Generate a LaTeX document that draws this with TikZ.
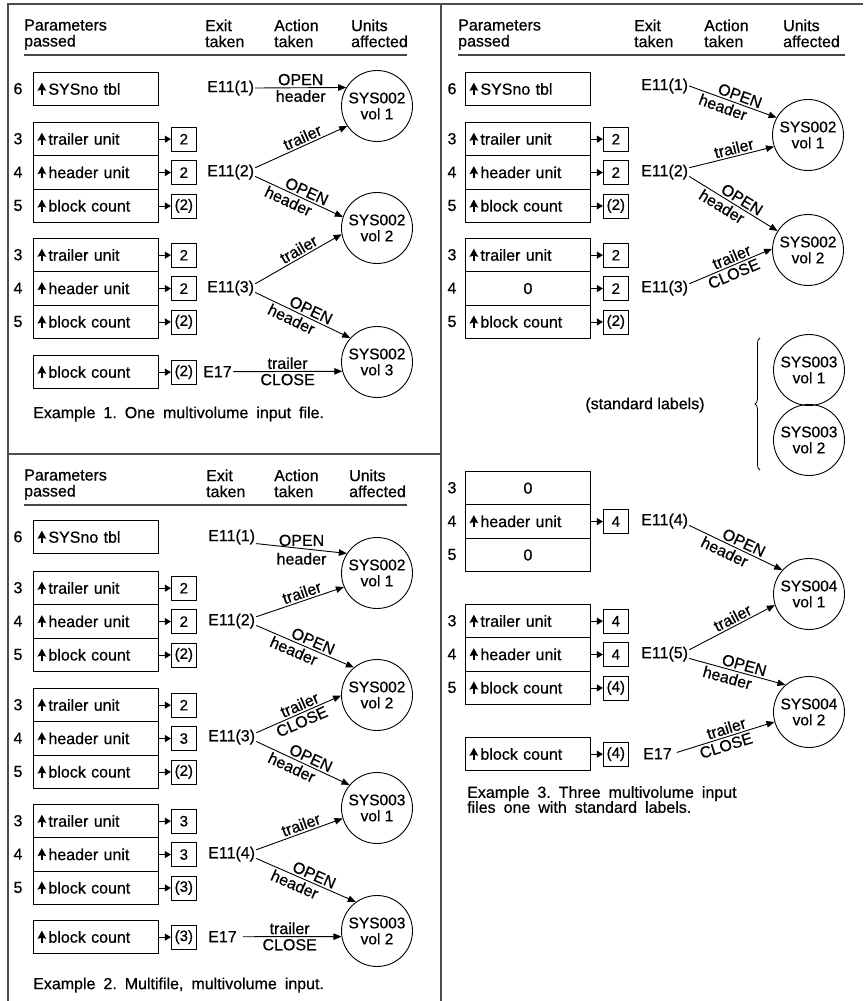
\documentclass[tikz,border=0pt]{standalone}
\usepackage{fontspec}
\setmainfont{Liberation Sans}[FakeBold=0.6]
\usetikzlibrary{arrows.meta,decorations.pathreplacing}
\newcommand{\ptr}{\tikz[baseline=0pt,x=1pt,y=1pt]{\fill (-4.4,3.8) -- (0,12) -- (4.4,3.8) -- (0,5.2) -- cycle; \draw[line width=1.8pt] (0,0) -- (0,5.6);}\hspace{2.2pt}}
\newcommand{\prow}[7][rowbox]{\node[#1] (#2) at (#3,#4) {#6}; \node[numlab] (#2n) at (#7,#4+16.7) {#5};}
\newcommand{\sbx}[3]{\node[sbox] (#1) at ([xshift=12pt]#2.east) {#3}; \draw[ptrarr] (#2.east) -- (#1.west);}
\newcommand{\widesp}{\spaceskip=8pt plus 1pt\relax}
\tikzset{
  frame/.style={line width=2.3pt, draw=black!70},
  uline/.style={line width=1.6pt, draw=black!72},
  hdr/.style={anchor=north west, inner sep=0pt, align=left},
  rowbox/.style={draw, line width=0.9pt, anchor=north west, minimum height=33.4pt, text width=117pt, inner xsep=4pt, inner ysep=0pt, align=left},
  zerobox/.style={rowbox, align=center},
  numlab/.style={inner sep=0pt},
  sbox/.style={draw, line width=0.9pt, anchor=west, minimum width=25pt, minimum height=24pt, inner sep=0pt, font=\fontsize{15}{15}\selectfont},
  exitlab/.style={anchor=west, inner sep=1pt},
  unit/.style={draw, circle, line width=0.9pt, minimum size=71pt, inner sep=0pt, align=center, font=\fontsize{15.5}{16}\selectfont},
  flow/.style={-{Triangle[length=8pt,width=6.5pt]}, line width=0.9pt},
  ptrarr/.style={-{Triangle[length=6pt,width=7pt]}, line width=0.9pt},
  lab/.style={inner sep=2pt},
  captext/.style={inner sep=0pt, align=left, font=\fontsize{16}{15}\selectfont},
}
\begin{document}
\begin{tikzpicture}[x=1pt,y=-1pt,font=\fontsize{16}{16}\selectfont]
\fill[white] (0,0) rectangle (863,1001);
\useasboundingbox (0,0) rectangle (863,1001);
% frame
\draw[frame] (7,4) -- (863,4);
\draw[frame] (8,4) -- (8,1001);
\draw[frame] (441,4) -- (441,1001);
\draw[frame] (8,454) -- (441,454);

% ================= Example 1 =================
\node[hdr] (h1p) at (24,19.3) {Parameters\\passed};
\node[hdr] (h1e) at (205,19.3) {Exit\\taken};
\node[hdr] (h1a) at (274,19.3) {Action\\taken};
\node[hdr] (h1u) at (351,19.3) {Units\\affected};
\draw[uline] (24,55) -- (407,55);

\prow{a6}{33}{72}{6}{\ptr SYSno tbl}{18}
\prow{a11}{33}{122}{3}{\ptr trailer unit}{18}
\prow{a12}{33}{155.4}{4}{\ptr header unit}{18}
\prow{a13}{33}{188.8}{5}{\ptr block count}{18}
\prow{a21}{33}{238}{3}{\ptr trailer unit}{18}
\prow{a22}{33}{271.4}{4}{\ptr header unit}{18}
\prow{a23}{33}{304.8}{5}{\ptr block count}{18}
\node[rowbox] (a3) at (33,355) {\ptr block count};
\sbx{s11}{a11}{2}
\sbx{s12}{a12}{2}
\sbx{s13}{a13}{(2)}
\sbx{s21}{a21}{2}
\sbx{s22}{a22}{2}
\sbx{s23}{a23}{(2)}
\sbx{s3}{a3}{(2)}

\node[exitlab] (e11) at (206,88) {E11(1)};
\node[exitlab] (e12) at (206,172.1) {E11(2)};
\node[exitlab] (e13) at (206,288.1) {E11(3)};
\node[exitlab] (e17) at (202,371.7) {E17};

\node[unit] (c1) at (377,106) {SYS002\\vol 1};
\node[unit] (c2) at (377,228) {SYS002\\vol 2};
\node[unit] (c3) at (377,362) {SYS002\\vol 3};

\draw[flow] (e11.east) -- node[lab,above]{OPEN} node[lab,below]{header} (c1.149.5);
\draw[flow] (e12.10) -- node[lab,above,sloped,pos=0.55]{trailer} (c1.214);
\draw[flow] (e12.-10) -- node[lab,above,sloped,pos=0.55]{OPEN} node[lab,below,sloped,pos=0.42]{header} (c2.162);
\draw[flow] (e13.10) -- node[lab,above,sloped,pos=0.55]{trailer} (c2.190);
\draw[flow] (e13.-10) -- node[lab,above,sloped,pos=0.55]{OPEN} node[lab,below,sloped,pos=0.42]{header} (c3.138);
\draw[flow] (e17.east) -- node[lab,above]{trailer} node[lab,below]{CLOSE} (c3.195.9);

\node[captext,anchor=west] (cap1) at (33,414) {\widesp Example 1.\ One multivolume input file.};

% ================= Example 2 =================
\node[hdr] (h2p) at (24,469.3) {Parameters\\passed};
\node[hdr] (h2e) at (206,469.3) {Exit\\taken};
\node[hdr] (h2a) at (274,469.3) {Action\\taken};
\node[hdr] (h2u) at (349,469.3) {Units\\affected};
\draw[uline] (24,505) -- (407,505);

\prow{b6}{33}{520}{6}{\ptr SYSno tbl}{18}
\prow{b11}{33}{571}{3}{\ptr trailer unit}{18}
\prow{b12}{33}{604.4}{4}{\ptr header unit}{18}
\prow{b13}{33}{637.8}{5}{\ptr block count}{18}
\prow{b21}{33}{688}{3}{\ptr trailer unit}{18}
\prow{b22}{33}{721.4}{4}{\ptr header unit}{18}
\prow{b23}{33}{754.8}{5}{\ptr block count}{18}
\prow{b31}{33}{804}{3}{\ptr trailer unit}{18}
\prow{b32}{33}{837.4}{4}{\ptr header unit}{18}
\prow{b33}{33}{870.8}{5}{\ptr block count}{18}
\node[rowbox] (b4) at (33,920) {\ptr block count};
\sbx{t11}{b11}{2}
\sbx{t12}{b12}{2}
\sbx{t13}{b13}{(2)}
\sbx{t21}{b21}{2}
\sbx{t22}{b22}{3}
\sbx{t23}{b23}{(2)}
\sbx{t31}{b31}{3}
\sbx{t32}{b32}{3}
\sbx{t33}{b33}{(3)}
\sbx{t4}{b4}{(3)}

\node[exitlab] (e21) at (207,537) {E11(1)};
\node[exitlab] (e22) at (207,621.1) {E11(2)};
\node[exitlab] (e23) at (207,737.1) {E11(3)};
\node[exitlab] (e24) at (207,854.1) {E11(4)};
\node[exitlab] (e27) at (207,936.7) {E17};

\node[unit] (d1) at (377,573) {SYS002\\vol 1};
\node[unit] (d2) at (377,695) {SYS002\\vol 2};
\node[unit] (d3) at (377,808) {SYS003\\vol 1};
\node[unit] (d4) at (377,931) {SYS003\\vol 2};

\draw[flow] (e21.-15) -- node[lab,above]{OPEN} node[lab,below=2pt]{header} (d1.147.6);
\draw[flow] (e22.10) -- node[lab,above,sloped,pos=0.55]{trailer} (d1.203);
\draw[flow] (e22.-10) -- node[lab,above,sloped,pos=0.55]{OPEN} node[lab,below,sloped,pos=0.42]{header} (d2.130);
\draw[flow] (e23.10) -- node[lab,above,sloped,pos=0.55]{trailer} node[lab,below,sloped,pos=0.5]{CLOSE} (d2.181);
\draw[flow] (e23.-10) -- node[lab,above,sloped,pos=0.55]{OPEN} node[lab,below,sloped,pos=0.42]{header} (d3.140);
\draw[flow] (e24.10) -- node[lab,above,sloped,pos=0.55]{trailer} (d3.197);
\draw[flow] (e24.-10) -- node[lab,above,sloped,pos=0.55]{OPEN} node[lab,below,sloped,pos=0.42]{header} (d4.126);
\draw[flow,shorten <=5pt] (e27.east) -- node[lab,above]{trailer} node[lab,below]{CLOSE} (d4.189.2);

\node[captext,anchor=west] (cap2) at (33,985) {\widesp Example 2.\ Multifile, multivolume input.};

% ================= Example 3 =================
\node[hdr] (h3p) at (458,19.3) {Parameters\\passed};
\node[hdr] (h3e) at (634,19.3) {Exit\\taken};
\node[hdr] (h3a) at (704,19.3) {Action\\taken};
\node[hdr] (h3u) at (783,19.3) {Units\\affected};
\draw[uline] (458,55) -- (845,55);

\prow{f6}{465}{72}{6}{\ptr SYSno tbl}{452}
\prow{f11}{465}{122}{3}{\ptr trailer unit}{452}
\prow{f12}{465}{155.4}{4}{\ptr header unit}{452}
\prow{f13}{465}{188.8}{5}{\ptr block count}{452}
\prow{f21}{465}{238}{3}{\ptr trailer unit}{452}
\prow[zerobox]{f22}{465}{271.4}{4}{0}{452}
\prow{f23}{465}{304.8}{5}{\ptr block count}{452}
\prow[zerobox]{f31}{465}{471}{3}{0}{452}
\prow{f32}{465}{504.4}{4}{\ptr header unit}{452}
\prow[zerobox]{f33}{465}{537.8}{5}{0}{452}
\prow{f41}{465}{604}{3}{\ptr trailer unit}{452}
\prow{f42}{465}{637.4}{4}{\ptr header unit}{452}
\prow{f43}{465}{670.8}{5}{\ptr block count}{452}
\node[rowbox] (f5) at (465,737) {\ptr block count};
\sbx{u11}{f11}{2}
\sbx{u12}{f12}{2}
\sbx{u13}{f13}{(2)}
\sbx{u21}{f21}{2}
\sbx{u22}{f22}{2}
\sbx{u23}{f23}{(2)}
\sbx{u32}{f32}{4}
\sbx{u41}{f41}{4}
\sbx{u42}{f42}{4}
\sbx{u43}{f43}{(4)}
\sbx{u5}{f5}{(4)}

\node[exitlab] (g1) at (640,86) {E11(1)};
\node[exitlab] (g2) at (640,172.1) {E11(2)};
\node[exitlab] (g3) at (640,288.1) {E11(3)};
\node[exitlab] (g4) at (640,521.1) {E11(4)};
\node[exitlab] (g5) at (640,654.1) {E11(5)};
\node[exitlab] (g7) at (642,753.7) {E17};

\node[unit] (k1) at (808,135) {SYS002\\vol 1};
\node[unit] (k2) at (808,250) {SYS002\\vol 2};
\node[unit] (k31) at (809,370) {SYS003\\vol 1};
\node[unit] (k32) at (809,440) {SYS003\\vol 2};
\node[unit] (k41) at (809,594) {SYS004\\vol 1};
\node[unit] (k42) at (809,712) {SYS004\\vol 2};

\draw[flow] (g1.east) -- node[lab,above,sloped,pos=0.55]{OPEN} node[lab,below,sloped,pos=0.42]{header} (k1.151);
\draw[flow] (g2.10) -- node[lab,above,sloped,pos=0.55]{trailer} (k1.199);
\draw[flow] (g2.-10) -- node[lab,above,sloped,pos=0.55]{OPEN} node[lab,below,sloped,pos=0.42]{header} (k2.148);
\draw[flow] (g3.10) -- node[lab,above,sloped,pos=0.55]{trailer} node[lab,below,sloped,pos=0.5]{CLOSE} (k2.178);
\draw[flow] (g4.-10) -- node[lab,above,sloped,pos=0.55]{OPEN} node[lab,below,sloped,pos=0.42]{header} (k41.138);
\draw[flow] (g5.10) -- node[lab,above,sloped,pos=0.55]{trailer} (k41.198);
\draw[flow] (g5.-10) -- node[lab,above,sloped,pos=0.55]{OPEN} node[lab,below,sloped,pos=0.42]{header} (k42.131);
\draw[flow,shorten <=4pt] (g7.east) -- node[lab,above,sloped,pos=0.55]{trailer} node[lab,below,sloped,pos=0.5]{CLOSE} (k42.196);

\node (std) at (645,405) {(standard labels)};
\coordinate (bt) at (760,338);
\coordinate (bb) at (760,470);
\draw[decorate,decoration={brace,amplitude=5pt},line width=0.8pt] (bb) -- (bt);

\node[captext,anchor=north west] (cap3) at (467,786) {\widesp Example 3.\ Three multivolume input\\\widesp files one with standard labels.};
\end{tikzpicture}
\end{document}
